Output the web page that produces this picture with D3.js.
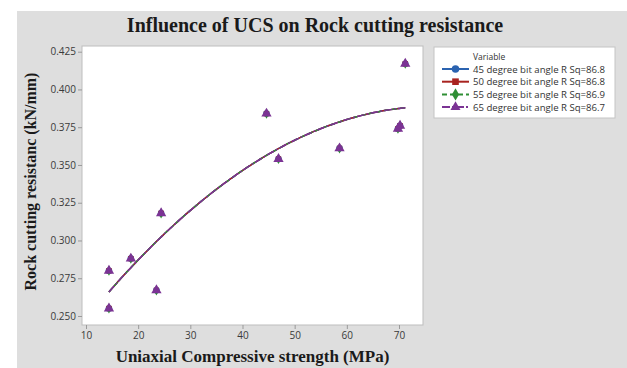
<!DOCTYPE html>
<html>
<head>
<meta charset="utf-8">
<script src="https://cdn.jsdelivr.net/npm/d3@7"></script>
<style>
  html, body { margin: 0; padding: 0; background: #ffffff; }
  svg { display: block; }
</style>
</head>
<body>
<svg id="chart" width="627" height="368"></svg>
<script>
// Uniaxial compressive strength (MPa) of each rock sample
const ucs = [14.4, 14.4, 18.6, 23.5, 24.4, 44.6, 46.9, 58.6, 69.8, 70.2, 71.2];

// Measured cutting resistance (kN/mm) for each bit angle
const res45 = [0.280, 0.255, 0.288, 0.267, 0.318, 0.384, 0.354, 0.361, 0.374, 0.376, 0.417];
const res50 = [0.280, 0.255, 0.288, 0.267, 0.318, 0.384, 0.354, 0.361, 0.374, 0.376, 0.417];
const res55 = [0.280, 0.255, 0.288, 0.267, 0.318, 0.384, 0.354, 0.361, 0.374, 0.376, 0.417];
const res65 = [0.280, 0.255, 0.288, 0.267, 0.318, 0.384, 0.354, 0.361, 0.374, 0.376, 0.417];

const seriesNames = [
  "45 degree bit angle R Sq=86.8",
  "50 degree bit angle R Sq=86.8",
  "55 degree bit angle R Sq=86.9",
  "65 degree bit angle R Sq=86.7"
];

const xTicks = [10, 20, 30, 40, 50, 60, 70];
const yTicks = [0.250, 0.275, 0.300, 0.325, 0.350, 0.375, 0.400, 0.425];

// Styles for each series: colour, marker symbol, marker size, dash pattern
const styles = [
  { color: "#2b63b0", symbol: d3.symbolCircle, size: 34, dash: null },
  { color: "#a8231f", symbol: d3.symbolSquare, size: 28, dash: null },
  { color: "#2f8f35", symbol: d3.symbolDiamond, size: 30, dash: "5,3" },
  { color: "#7b3394", symbol: d3.symbolTriangle, size: 46, dash: "8,2,2,2" }
];

const series = [res45, res50, res55, res65].map((ys, i) => ({
  name: seriesNames[i],
  points: ucs.map((x, j) => ({ x, y: ys[j] })),
  style: styles[i]
}));

// Quadratic least-squares fit y = a + b x + c x^2
function quadFit(pts) {
  let n = pts.length, sx = 0, sx2 = 0, sx3 = 0, sx4 = 0, sy = 0, sxy = 0, sx2y = 0;
  pts.forEach(p => {
    const x = p.x, y = p.y, x2 = x * x;
    sx += x; sx2 += x2; sx3 += x2 * x; sx4 += x2 * x2;
    sy += y; sxy += x * y; sx2y += x2 * y;
  });
  const M = [[n, sx, sx2], [sx, sx2, sx3], [sx2, sx3, sx4]];
  const v = [sy, sxy, sx2y];
  const det = m => m[0][0] * (m[1][1] * m[2][2] - m[1][2] * m[2][1])
                 - m[0][1] * (m[1][0] * m[2][2] - m[1][2] * m[2][0])
                 + m[0][2] * (m[1][0] * m[2][1] - m[1][1] * m[2][0]);
  const D = det(M);
  const coef = [0, 1, 2].map(k => {
    const Mk = M.map((row, r) => row.map((val, c) => (c === k ? v[r] : val)));
    return det(Mk) / D;
  });
  return x => coef[0] + coef[1] * x + coef[2] * x * x;
}

const svg = d3.select("#chart");

// Panel background
svg.append("rect").attr("x", 17).attr("y", 11).attr("width", 610).attr("height", 357)
  .attr("fill", "#dedede");

const plot = { left: 82, top: 46, right: 423, bottom: 325 };

const x = d3.scaleLinear().domain([9.233, 74.6]).range([plot.left, plot.right]);
const y = d3.scaleLinear().domain([0.24404, 0.42877]).range([plot.bottom, plot.top]);

// Plot area
svg.append("rect")
  .attr("x", plot.left).attr("y", plot.top)
  .attr("width", plot.right - plot.left).attr("height", plot.bottom - plot.top)
  .attr("fill", "#ffffff").attr("stroke", "#bdbdbd").attr("stroke-width", 1);

// Axes
const xAxis = svg.append("g").attr("transform", `translate(0,${plot.bottom})`)
  .call(d3.axisBottom(x).tickValues(xTicks).tickSize(4).tickPadding(3).tickFormat(d3.format("d")));
const yAxis = svg.append("g").attr("transform", `translate(${plot.left},0)`)
  .call(d3.axisLeft(y).tickValues(yTicks).tickSize(4).tickPadding(2).tickFormat(d3.format(".3f")));

[xAxis, yAxis].forEach(g => {
  g.select(".domain").remove();
  g.selectAll(".tick line").attr("stroke", "#9a9a9a");
  g.selectAll(".tick text")
    .attr("fill", "#3a3a3a")
    .style("font-family", "'Open Sans', 'Noto Sans', sans-serif")
    .style("font-size", "10px");
});

// Fitted curves
const line = d3.line().x(d => x(d.x)).y(d => y(d.y));
series.forEach(s => {
  const fit = quadFit(s.points);
  const [x0, x1] = d3.extent(s.points, p => p.x);
  const curve = d3.range(0, 101).map(i => {
    const xv = x0 + (x1 - x0) * i / 100;
    return { x: xv, y: fit(xv) };
  });
  svg.append("path").datum(curve)
    .attr("d", line)
    .attr("fill", "none")
    .attr("stroke", s.style.color)
    .attr("stroke-width", 1.5)
    .attr("stroke-dasharray", s.style.dash);
});

// Data points
series.forEach(s => {
  svg.append("g").selectAll("path").data(s.points).join("path")
    .attr("transform", d => `translate(${x(d.x)},${y(d.y)})`)
    .attr("d", d3.symbol().type(s.style.symbol).size(s.style.size))
    .attr("fill", s.style.color);
});

// Title
svg.append("text")
  .attr("x", 315).attr("y", 32)
  .attr("text-anchor", "middle")
  .style("font-family", "'Liberation Serif', 'Times New Roman', serif")
  .style("font-weight", "bold")
  .style("font-size", "20px")
  .attr("fill", "#1a1a1a")
  .text("Influence of UCS on Rock cutting resistance");

// Axis titles
svg.append("text")
  .attr("x", (plot.left + plot.right) / 2).attr("y", 362)
  .attr("text-anchor", "middle")
  .style("font-family", "'Liberation Serif', 'Times New Roman', serif")
  .style("font-weight", "bold")
  .style("font-size", "17px")
  .attr("fill", "#1a1a1a")
  .text("Uniaxial Compressive strength (MPa)");

svg.append("text")
  .attr("transform", `translate(36,${(plot.top + plot.bottom) / 2 - 4}) rotate(-90)`)
  .attr("text-anchor", "middle")
  .style("font-family", "'Liberation Serif', 'Times New Roman', serif")
  .style("font-weight", "bold")
  .style("font-size", "16px")
  .attr("fill", "#1a1a1a")
  .text("Rock cutting resistanc (kN/mm)");

// Legend
const legend = svg.append("g");
legend.append("rect")
  .attr("x", 434).attr("y", 47).attr("width", 181).attr("height", 71)
  .attr("fill", "#ffffff").attr("stroke", "#c4c4c4");
legend.append("text")
  .attr("x", 473).attr("y", 60)
  .style("font-family", "'Open Sans', 'Noto Sans', sans-serif")
  .style("font-size", "8.5px")
  .attr("fill", "#333")
  .text("Variable");

series.forEach((s, i) => {
  const cy = 69 + i * 12.7;
  legend.append("line")
    .attr("x1", 442).attr("x2", 469).attr("y1", cy).attr("y2", cy)
    .attr("stroke", s.style.color).attr("stroke-width", 2)
    .attr("stroke-dasharray", s.style.dash);
  legend.append("path")
    .attr("transform", `translate(455.5,${cy})`)
    .attr("d", d3.symbol().type(s.style.symbol).size(44))
    .attr("fill", s.style.color);
  legend.append("text")
    .attr("x", 473).attr("y", cy + 3.5)
    .style("font-family", "'Open Sans', 'Noto Sans', sans-serif")
    .style("font-size", "9.6px")
    .attr("fill", "#333")
    .text(s.name);
});
</script>
</body>
</html>
